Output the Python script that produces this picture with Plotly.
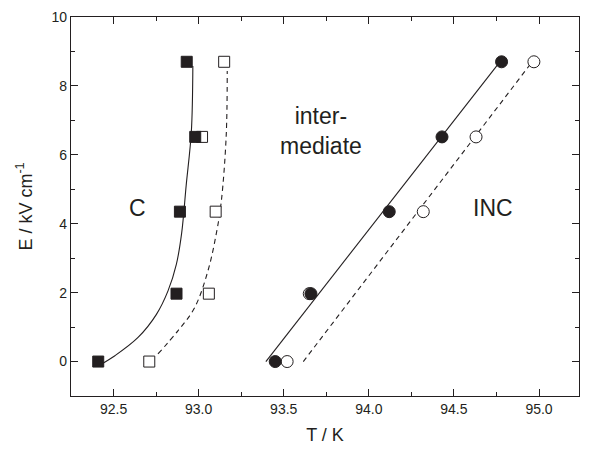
import plotly.graph_objects as go

# Field values (kV/cm) at which the transitions were measured
E_field = [0.0, 1.97, 4.35, 6.52, 8.70]

# C phase boundary: filled squares (heating), open squares (cooling)
T_c_filled = [92.41, 92.87, 92.89, 92.98, 92.93]
T_c_open = [92.71, 93.06, 93.10, 93.02, 93.15]

# INC boundary: filled circles and open circles
T_inc_filled = [93.45, 93.66, 94.12, 94.43, 94.78]
T_inc_open = [93.52, 93.65, 94.32, 94.63, 94.97]

# Guide curves for the C boundary (points along the drawn curves)
c_solid_T = [92.43, 92.508, 92.644, 92.752, 92.82, 92.869, 92.90, 92.927, 92.957, 92.966]
c_solid_E = [-0.07, 0.17, 0.70, 1.37, 2.05, 2.82, 3.72, 5.12, 6.66, 8.58]
c_dash_T = [92.761, 92.878, 92.976, 93.054, 93.104, 93.133, 93.162, 93.168]
c_dash_E = [0.22, 0.89, 1.56, 2.62, 3.72, 4.64, 6.56, 8.43]

# Linear guides for the INC boundary
inc_solid_T = [93.395, 94.77]
inc_solid_E = [0.0, 8.70]
inc_dash_T = [93.615, 94.96]
inc_dash_E = [0.0, 8.70]

ink = "#231f20"
font_family = "Liberation Sans, Arial, sans-serif"

fig = go.Figure()

fig.add_trace(go.Scatter(x=c_solid_T, y=c_solid_E, mode="lines",
                         line=dict(color=ink, width=1.1, shape="spline", smoothing=1)))
fig.add_trace(go.Scatter(x=c_dash_T, y=c_dash_E, mode="lines",
                         line=dict(color=ink, width=1.1, shape="spline", smoothing=1,
                                   dash="5px,4px")))
fig.add_trace(go.Scatter(x=inc_solid_T, y=inc_solid_E, mode="lines",
                         line=dict(color=ink, width=1.1)))
fig.add_trace(go.Scatter(x=inc_dash_T, y=inc_dash_E, mode="lines",
                         line=dict(color=ink, width=1.1, dash="5px,4px")))

fig.add_trace(go.Scatter(x=T_c_open, y=E_field, mode="markers",
                         marker=dict(symbol="square", size=11, color="white",
                                     line=dict(color=ink, width=1))))
fig.add_trace(go.Scatter(x=T_inc_open, y=E_field, mode="markers",
                         marker=dict(symbol="circle", size=12, color="white",
                                     line=dict(color=ink, width=1))))
fig.add_trace(go.Scatter(x=T_c_filled, y=E_field, mode="markers",
                         marker=dict(symbol="square", size=11, color=ink,
                                     line=dict(color=ink, width=1))))
fig.add_trace(go.Scatter(x=T_inc_filled, y=E_field, mode="markers",
                         marker=dict(symbol="circle", size=12, color=ink,
                                     line=dict(color=ink, width=1))))

label_font = dict(family=font_family, size=23, color=ink)
fig.add_annotation(x=92.64, y=4.45, text="C", showarrow=False, font=label_font)
fig.add_annotation(x=93.72, y=6.7, text="inter-<br>mediate", showarrow=False,
                   font=label_font, align="center")
fig.add_annotation(x=94.73, y=4.45, text="INC", showarrow=False, font=label_font)

axis_common = dict(
    showline=True, linecolor=ink, linewidth=1.2, mirror="allticks",
    ticks="inside", ticklen=7, tickwidth=1.2, tickcolor=ink,
    showgrid=False, zeroline=False,
    tickfont=dict(family=font_family, size=14, color=ink),
)

fig.update_xaxes(
    range=[92.25, 95.235], tickvals=[92.5, 93.0, 93.5, 94.0, 94.5, 95.0],
    ticktext=["92.5", "93.0", "93.5", "94.0", "94.5", "95.0"],
    minor=dict(ticks="inside", ticklen=4, tickwidth=1, tickcolor=ink, dtick=0.25, tick0=92.25),
    title=dict(text="T / K", font=dict(family=font_family, size=18, color=ink), standoff=12),
    **axis_common,
)
fig.update_yaxes(
    range=[-1.0, 10.0], tickvals=[0, 2, 4, 6, 8, 10],
    minor=dict(ticks="inside", ticklen=4, tickwidth=1, tickcolor=ink, dtick=1, tick0=0),
    title=dict(text="E / kV cm<sup>-1</sup>", font=dict(family=font_family, size=18, color=ink), standoff=14),
    **axis_common,
)

fig.update_layout(
    width=589, height=452,
    margin=dict(l=71, r=9, t=14, b=56),
    plot_bgcolor="white", paper_bgcolor="white",
    showlegend=False,
)

fig.write_html("out.html")
